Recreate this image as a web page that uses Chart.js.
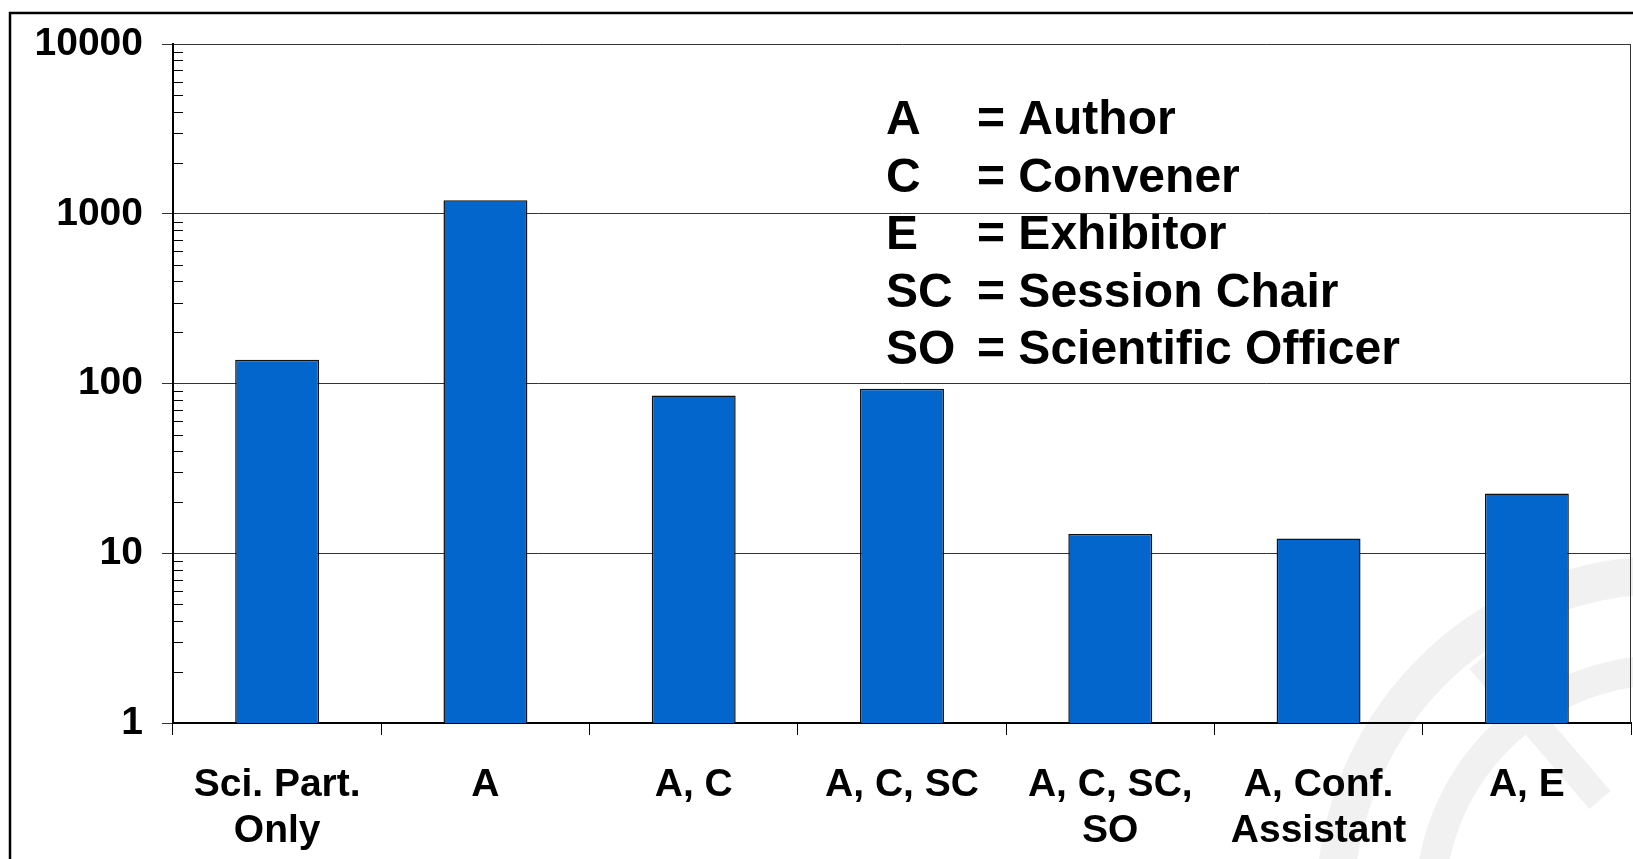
<!DOCTYPE html>
<html>
<head>
<meta charset="utf-8">
<script src="https://cdn.jsdelivr.net/npm/chart.js@4"></script>
<style>
  html, body { margin: 0; padding: 0; background: #fff; overflow: hidden; }
</style>
</head>
<body>
<canvas id="myChart" width="1633" height="859"></canvas>
<script>
const categories = [['Sci. Part.', 'Only'], 'A', 'A, C', 'A, C, SC', ['A, C, SC,', 'SO'], ['A, Conf.', 'Assistant'], 'A, E'];
const counts = [138, 1200, 85, 93, 13, 12.2, 22.5];
const yTicks = [1, 10, 100, 1000, 10000];
const abbrevs = ['A', 'C', 'E', 'SC', 'SO'];
const meanings = ['Author', 'Convener', 'Exhibitor', 'Session Chair', 'Scientific Officer'];

const fam = "'Liberation Sans', Arial, sans-serif";
const isMajor = v => yTicks.some(t => Math.abs(t - v) < 1e-6 * t);

// slide frame + faint logo in the corner
const backdrop = {
    id: 'backdrop',
    beforeDraw(chart) {
        const c = chart.ctx;
        c.save();
        c.strokeStyle = '#f1f1f1';
        c.lineWidth = 38;
        c.beginPath();
        c.arc(1665, 905, 330, Math.PI * 0.98, Math.PI * 1.52);
        c.stroke();
        c.lineWidth = 30;
        c.beginPath();
        c.arc(1665, 905, 235, Math.PI * 0.98, Math.PI * 1.52);
        c.stroke();
        c.lineWidth = 28;
        c.beginPath();
        c.moveTo(1480, 660);
        c.lineTo(1600, 800);
        c.stroke();
        c.strokeStyle = '#000';
        c.lineWidth = 2.5;
        c.beginPath();
        c.moveTo(10, 870);
        c.lineTo(10, 13);
        c.lineTo(1650, 13);
        c.stroke();
        c.restore();
    },
    afterDraw(chart) {
        const c = chart.ctx;
        const y = chart.scales.y;
        const area = chart.chartArea;
        c.save();
        // minor ticks on the inside of the value axis
        c.strokeStyle = '#000';
        c.lineWidth = 1;
        for (let d = 1; d < 10000; d *= 10) {
            for (let m = 2; m <= 9; m++) {
                const py = Math.round(y.getPixelForValue(m * d)) + 0.5;
                c.beginPath();
                c.moveTo(area.left, py);
                c.lineTo(area.left + 10, py);
                c.stroke();
            }
        }
        // right edge of plot
        c.strokeStyle = '#333';
        c.beginPath();
        c.moveTo(area.right - 0.5, area.top);
        c.lineTo(area.right - 0.5, area.bottom);
        c.stroke();
        // key
        c.fillStyle = '#000';
        c.font = 'bold 48px ' + fam;
        c.textBaseline = 'alphabetic';
        abbrevs.forEach((a, i) => {
            const by = 134 + i * 57.5;
            c.fillText(a, 886, by);
            c.fillText('= ' + meanings[i], 977, by);
        });
        c.restore();
    }
};

const ctx = document.getElementById('myChart').getContext('2d');
const myChart = new Chart(ctx, {
    type: 'bar',
    data: {
        labels: categories,
        datasets: [{
            label: 'Participants',
            data: counts,
            backgroundColor: '#0366cc',
            borderColor: '#111',
            borderWidth: 1.5,
            barPercentage: 0.403,
            categoryPercentage: 1
        }]
    },
    options: {
        responsive: false,
        animation: false,
        layout: { padding: { left: 0, top: 44, right: 2, bottom: 0 } },
        plugins: {
            legend: { display: false },
            tooltip: { enabled: false }
        },
        scales: {
            x: {
                grid: { offset: true, drawOnChartArea: false, tickLength: 12, color: '#000', lineWidth: 1 },
                border: { color: '#000', width: 2 },
                ticks: {
                    color: '#000',
                    font: { family: fam, size: 39, weight: 'bold', lineHeight: 1.16 },
                    padding: 28,
                    maxRotation: 0,
                    autoSkip: false
                },
                afterFit: s => { s.height = 136; }
            },
            y: {
                type: 'logarithmic',
                min: 1,
                max: 10000,
                grid: {
                    color: c => (c.tick && isMajor(c.tick.value)) ? '#333' : 'rgba(0,0,0,0)',
                    tickLength: 11,
                    lineWidth: 1
                },
                border: { color: '#000', width: 2 },
                ticks: {
                    autoSkip: false,
                    color: '#000',
                    font: { family: fam, size: 39, weight: 'bold' },
                    padding: 19,
                    callback: v => isMajor(v) ? String(Math.round(v)) : null
                },
                afterFit: s => { s.width = 173; }
            }
        }
    },
    plugins: [backdrop]
});
</script>
</body>
</html>
